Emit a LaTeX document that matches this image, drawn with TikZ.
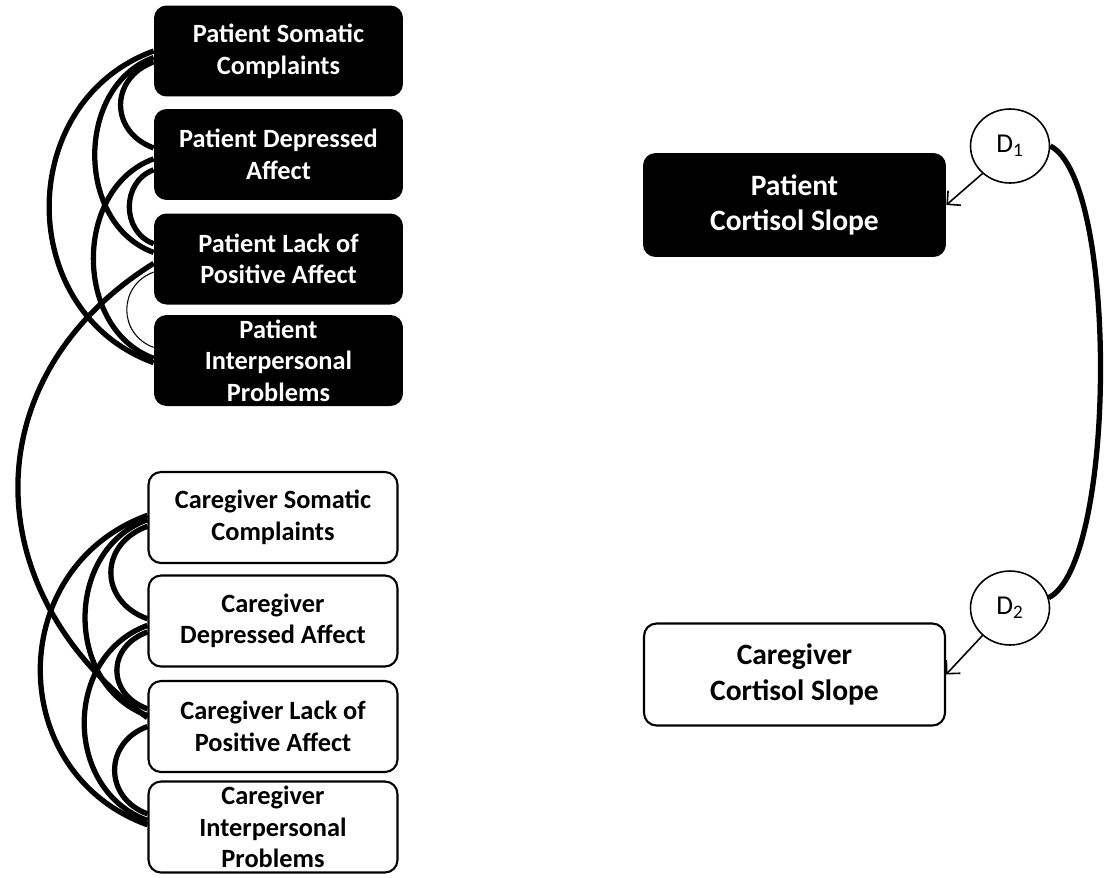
\documentclass[tikz,border=0pt]{standalone}
\usepackage{fontspec}
\setmainfont{Carlito}
\usetikzlibrary{shapes.geometric, arrows.meta}

\tikzset{
  patbox/.style={rectangle, rounded corners=0.25cm, fill=black, text=white,
    font=\bfseries\fontsize{15}{18}\selectfont, align=center,
    minimum width=4.98cm, minimum height=1.82cm, inner sep=1pt},
  carebox/.style={patbox, fill=white, draw=black, line width=1.2pt, text=black},
  slopebox/.style={patbox, font=\bfseries\fontsize{16.8}{20}\selectfont,
    minimum width=6.06cm, minimum height=2.08cm},
  dist/.style={ellipse, draw=black, line width=0.9pt, minimum width=1.58cm,
    minimum height=1.48cm, inner sep=0pt, font=\fontsize{15.5}{18}\selectfont},
  cov/.style={line width=3pt, bend right=70},
  thincov/.style={line width=0.6pt, bend right=70},
  path/.style={-{Straight Barb[length=5.5pt, width=11pt]}, line width=0.9pt},
}

\begin{document}
\begin{tikzpicture}[x=0.02cm, y=0.02cm]
    \useasboundingbox (0,0) rectangle (1110,-877);
    % patient indicators
    \node[patbox](psc)  at (278.5,-51)   {Patient Somatic\\Complaints};
    \node[patbox](pda)  at (278.5,-154.5){Patient Depressed\\Affect};
    \node[patbox](plpa) at (278.5,-259)  {Patient Lack of\\Positive Affect};
    \node[patbox](pip)  at (278.5,-360.5){Patient\\Interpersonal\\Problems};
    % caregiver indicators
    \node[carebox](csc)  at (273,-517.5){Caregiver Somatic\\Complaints};
    \node[carebox](cda)  at (273,-621)  {Caregiver\\Depressed Affect};
    \node[carebox](clpa) at (273,-726.5){Caregiver Lack of\\Positive Affect};
    \node[carebox](cip)  at (273,-827)  {Caregiver\\Interpersonal\\Problems};
    % outcomes
    \node[slopebox](pcs) at (794.5,-205)  {Patient\\Cortisol Slope};
    \node[slopebox, carebox, font=\bfseries\fontsize{16.8}{20}\selectfont,
          minimum width=6.02cm, minimum height=2.04cm](ccs) at (794.5,-674.5){Caregiver\\Cortisol Slope};
    \node[dist](d1) at (1010,-146) {D\textsubscript{1}};
    \node[dist](d2) at (1010,-608) {D\textsubscript{2}};

    \draw[cov, looseness=1.4]  (psc.185)  to (pda.177);
    \draw[cov, looseness=1.1]  (psc.183)  to (plpa.177);
    \draw[cov, looseness=1.22] (psc.180)  to (pip.181);
    \draw[cov, looseness=1.2]  (pda.187)  to (plpa.173);
    \draw[cov, looseness=1.1]  (pda.182)  to (pip.179);
    \draw[thincov, looseness=1.3] (plpa.186) to (pip.174);

    \draw[cov, looseness=1.44] (csc.184)  to (cda.179);
    \draw[cov, looseness=1.16] (csc.181)  to (clpa.175);
    \draw[cov, looseness=1.26] (csc.179)  to (cip.179);
    \draw[cov, looseness=1.45] (cda.185)  to (clpa.172);
    \draw[cov, looseness=1.18] (cda.182)  to (cip.177);
    \draw[cov, looseness=1.37] (clpa.180) to (cip.174);

    \draw[line width=3pt] (plpa.182) to[out=212, in=144, looseness=1.2] (clpa.176);
    \draw[line width=3pt] (d1.east) .. controls +(68,-34) and +(68,34) .. (d2.15);

    \draw[path] (d1.225) to (pcs.east);
    \draw[path] (d2.225) to (ccs.east);
\end{tikzpicture}
\end{document}
